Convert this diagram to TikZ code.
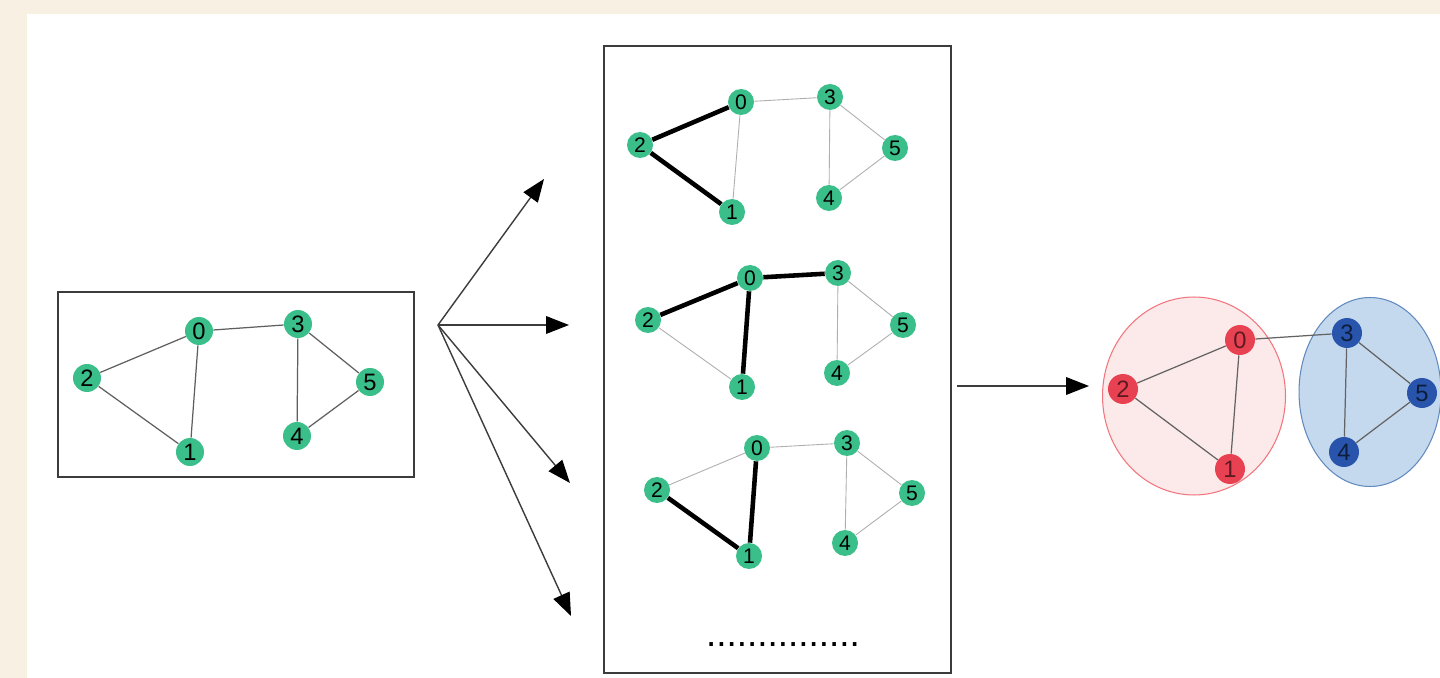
\documentclass[tikz,border=0pt]{standalone}
\usepackage{fontspec}
\setmainfont{Liberation Sans}
\usetikzlibrary{
  arrows.meta,
  positioning,
  shapes.geometric
}
\definecolor{paper}{RGB}{249,240,228}
\definecolor{mint}{RGB}{58,190,138}
\definecolor{frame}{RGB}{60,60,60}
\definecolor{wire}{RGB}{95,95,95}
\definecolor{pale}{RGB}{175,175,175}
\definecolor{rosered}{RGB}{232,66,82}
\definecolor{rosefill}{RGB}{252,233,233}
\definecolor{roseline}{RGB}{240,118,126}
\definecolor{royal}{RGB}{40,84,172}
\definecolor{skyfill}{RGB}{197,217,238}
\definecolor{skyline}{RGB}{98,138,190}

\begin{document}
\begin{tikzpicture}[x=0.02cm, y=-0.02cm,
    vtx/.style={circle, fill=mint, inner sep=0pt, minimum size=0.56cm, font=\fontsize{13.5}{13.5}\selectfont},
    smallvtx/.style={vtx, minimum size=0.52cm, font=\fontsize{12}{12}\selectfont},
    redvtx/.style={vtx, fill=rosered, minimum size=0.6cm, text=black, text opacity=0.6},
    bluevtx/.style={vtx, fill=royal, minimum size=0.6cm, text=black, text opacity=0.65},
    edge/.style={draw=wire, line width=0.7pt},
    faint/.style={draw=pale, line width=0.5pt},
    heavy/.style={draw=black, line width=2.6pt},
    fanarrow/.style={draw=frame, line width=0.8pt, -{Triangle[length=13pt, width=10pt, color=black]}}
  ]
            % Paper and sheet
            \fill[paper] (0,0) rectangle (1440,678);
            \fill[white] (27,14) rectangle (1440,678);
            \useasboundingbox (0,0) rectangle (1440,678);

            % Input graph
            \draw[frame, line width=0.9pt] (58,292) rectangle (414,477);
            \foreach \n/\x/\y in {0/199/331, 1/190/452, 2/87/378, 3/298/324, 4/297/436, 5/370/382}
                \node[vtx] (g\n) at (\x,\y) {\n};
            \draw[edge] (g0) -- (g2) (g0) -- (g1) (g2) -- (g1) (g0) -- (g3) (g3) -- (g4) (g3) -- (g5) (g4) -- (g5);

            % Fan of arrows
            \coordinate (fan) at (438,325);
            \coordinate (f1) at (544,179);
            \coordinate (f2) at (569,325);
            \coordinate (f3) at (570,483);
            \coordinate (f4) at (571,616);
            \foreach \e in {f1,f2,f3,f4}
                \draw[fanarrow] (fan) -- (\e);

            % Candidate trees
            \draw[frame, line width=0.9pt] (604,46) rectangle (951,673);
            \foreach \n/\x/\y in {0/741/102, 1/732/212, 2/640/145, 3/830/97, 4/829/198, 5/895/148}
                \node[smallvtx] (t\n) at (\x,\y) {\n};
            \draw[faint] (t0) -- (t1) (t0) -- (t3) (t3) -- (t4) (t3) -- (t5) (t4) -- (t5);
            \draw[heavy] (t2) -- (t0) (t2) -- (t1);

            \foreach \n/\x/\y in {0/750/278, 1/742/387, 2/648/320, 3/838/273, 4/837/373, 5/903/325}
                \node[smallvtx] (m\n) at (\x,\y) {\n};
            \draw[faint] (m2) -- (m1) (m3) -- (m4) (m3) -- (m5) (m4) -- (m5);
            \draw[heavy] (m2) -- (m0) (m0) -- (m1) (m0) -- (m3);

            \foreach \n/\x/\y in {0/757/448, 1/749/556, 2/657/490, 3/847/443, 4/845/543, 5/912/493}
                \node[smallvtx] (b\n) at (\x,\y) {\n};
            \draw[faint] (b2) -- (b0) (b0) -- (b3) (b3) -- (b4) (b3) -- (b5) (b4) -- (b5);
            \draw[heavy] (b2) -- (b1) (b0) -- (b1);

            \node[anchor=base, font=\fontsize{21}{21}\selectfont, inner sep=0pt] (more) at (783,646) {...............};

            % Result
            \coordinate (out) at (957,386);
            \coordinate (res) at (1089,386);
            \draw[fanarrow] (out) -- (res);

            \node[ellipse, draw=roseline, fill=rosefill, line width=0.6pt, minimum width=3.66cm, minimum height=3.96cm] (redpart) at (1194,396) {};
            \node[ellipse, draw=skyline, fill=skyfill, line width=0.6pt, minimum width=2.84cm, minimum height=3.78cm] (bluepart) at (1370,392) {};

            \foreach \n/\x/\y in {0/1240/340, 1/1230/469, 2/1123/389}
                \node[redvtx] (r\n) at (\x,\y) {\n};
            \foreach \n/\x/\y in {3/1347/333, 4/1344/452, 5/1422/393}
                \node[bluevtx] (r\n) at (\x,\y) {\n};
            \draw[edge, draw=frame!80] (r0) -- (r2) (r0) -- (r1) (r2) -- (r1) (r0) -- (r3) (r3) -- (r4) (r3) -- (r5) (r4) -- (r5);
        \end{tikzpicture}
\end{document}
